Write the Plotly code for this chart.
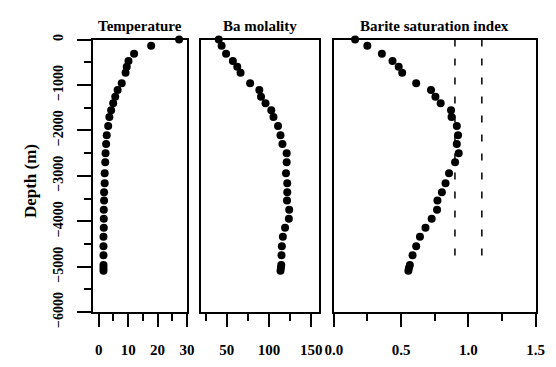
import plotly.graph_objects as go

# Data
depth = [0, -135, -310, -470, -600, -730, -960, -1110, -1260, -1400, -1555, -1705,
         -1900, -2105, -2300, -2500, -2700, -2940, -3160, -3360, -3540, -3745,
         -3945, -4140, -4340, -4550, -4745, -4960, -5030, -5090]
temperature = [27.3, 17.8, 12.0, 10.1, 9.5, 9.1, 7.8, 6.4, 5.6, 4.9, 4.2, 3.6,
               3.2, 2.7, 2.5, 2.3, 2.2, 2.0, 2.0, 1.8, 1.8, 1.7, 1.7, 1.7,
               1.6, 1.6, 1.6, 1.6, 1.6, 1.6]
ba_molality = [40.6, 44.0, 49.3, 57.3, 62.5, 66.4, 77.7, 88.6, 90.6, 95.9, 102.7, 105.3,
               110.7, 113.6, 115.9, 120.9, 120.9, 120.1, 121.6, 121.6, 121.3, 123.9,
               123.5, 119.0, 116.4, 115.2, 114.8, 114.5, 114.1, 113.6]
barite_si = [0.158, 0.249, 0.357, 0.436, 0.482, 0.508, 0.612, 0.722, 0.755, 0.794,
             0.871, 0.875, 0.914, 0.923, 0.914, 0.928, 0.901, 0.856, 0.830, 0.803,
             0.770, 0.767, 0.727, 0.681, 0.640, 0.612, 0.585, 0.565, 0.558, 0.554]
dashed_x = [0.9, 1.1]
dashed_depth = [0, -4800]

titles = ["Temperature", "Ba molality", "Barite saturation index"]
y_title = "Depth (m)"

W, H = 556, 367
FONT = "Liberation Serif"

fig = go.Figure()

mk = dict(color="black", size=8)
fig.add_trace(go.Scatter(x=temperature, y=depth, mode="markers", marker=mk,
                         xaxis="x", yaxis="y", cliponaxis=False, showlegend=False))
fig.add_trace(go.Scatter(x=ba_molality, y=depth, mode="markers", marker=mk,
                         xaxis="x2", yaxis="y2", cliponaxis=False, showlegend=False))
for dx in dashed_x:
    fig.add_trace(go.Scatter(x=[dx, dx], y=dashed_depth, mode="lines",
                             line=dict(color="black", width=1.5, dash="7px,12px"),
                             xaxis="x3", yaxis="y3", showlegend=False))
fig.add_trace(go.Scatter(x=barite_si, y=depth, mode="markers", marker=mk,
                         xaxis="x3", yaxis="y3", cliponaxis=False, showlegend=False))

ydom = [1 - 325.7 / H, 1 - 35.7 / H]
xdoms = [[86.7 / W, 184 / W], [198.3 / W, 320.7 / W], [335.7 / W, 544.3 / W]]
xranges = [[-2.0, 30], [19.5, 159.5], [0, 1.5]]
xmajor = [(0, 10, 5), (0, 50, 25), (0, 0.5, 0.25)]

tickfont = dict(family=FONT, size=15, color="black", weight="bold")

common_line = dict(showline=True, linecolor="black", linewidth=2.2, mirror=True,
                   showgrid=False, zeroline=False)

layout = dict(width=W, height=H, margin=dict(l=0, r=0, t=0, b=0),
              plot_bgcolor="white", paper_bgcolor="white", showlegend=False)

for i in range(3):
    sfx = "" if i == 0 else str(i + 1)
    t0, dt, mdt = xmajor[i]
    layout["xaxis" + sfx] = dict(
        domain=xdoms[i], range=xranges[i], anchor="y" + sfx,
        tickmode="linear", tick0=t0, dtick=dt, ticks="outside", ticklen=13,
        tickwidth=2, tickcolor="black", tickfont=tickfont,
        ticklabelstandoff=10,
        tickformat=".1f" if i == 2 else "d",
        minor=dict(ticks="outside", ticklen=7, tickwidth=2, tickcolor="black",
                   dtick=mdt, tick0=t0, showgrid=False),
        **common_line)
    ydict = dict(domain=ydom, range=[-6000, 0], anchor="x" + sfx, **common_line)
    if i == 0:
        ydict.update(tickmode="linear", tick0=0, dtick=1000, ticks="outside",
                     ticklen=14, tickwidth=2, tickcolor="black",
                     tickfont=dict(family=FONT, size=14, color="black", weight="bold"),
                     tickangle=-90, ticklabelstandoff=8,
                     minor=dict(ticks="outside", ticklen=7, tickwidth=2,
                                tickcolor="black", dtick=500, tick0=0, showgrid=False))
    else:
        ydict.update(showticklabels=False, ticks="")
    layout["yaxis" + sfx] = ydict

annotations = []
for i, t in enumerate(titles):
    cx = (xdoms[i][0] + xdoms[i][1]) / 2
    annotations.append(dict(text=t, x=cx, y=1 - 21 / H, xref="paper", yref="paper",
                            showarrow=False, xanchor="center", yanchor="middle",
                            font=dict(family=FONT, size=15, color="black", weight="bold")))
annotations.append(dict(text=y_title, x=23 / W, y=1 - 186 / H, xref="paper", yref="paper",
                        showarrow=False, textangle=-90, xanchor="center", yanchor="middle",
                        font=dict(family=FONT, size=17, color="black", weight="bold")))
layout["annotations"] = annotations

fig.update_layout(**layout)
fig.write_html("out.html")
